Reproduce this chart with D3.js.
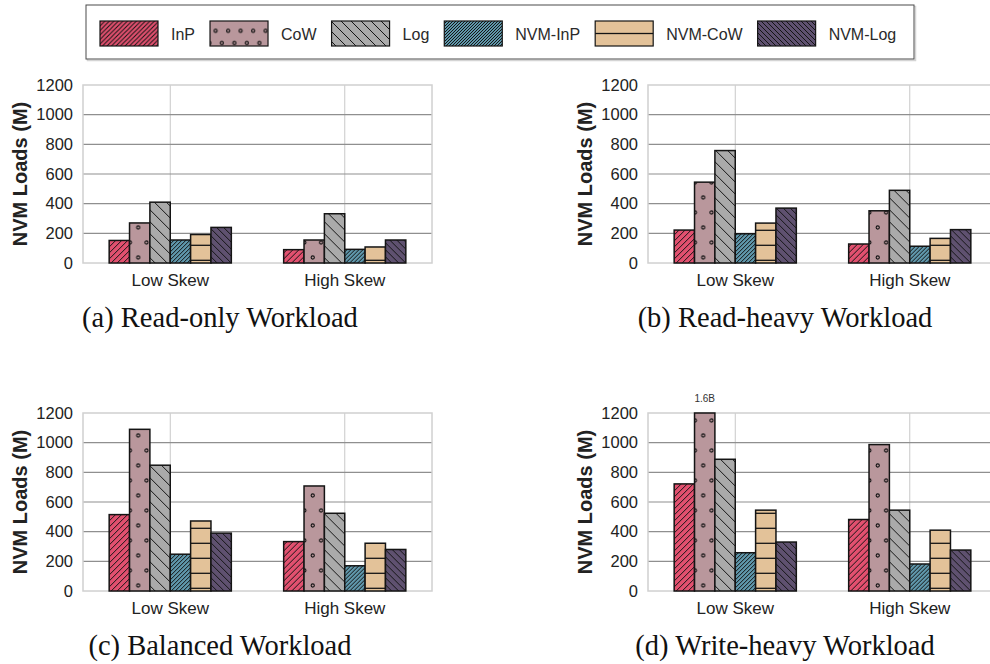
<!DOCTYPE html>
<html>
<head>
<meta charset="utf-8">
<script src="https://cdn.jsdelivr.net/npm/d3@7"></script>
<style>
  body { margin: 0; background: #fff; }
  text { font-family: "Liberation Sans", Arial, Helvetica, sans-serif; }
  text.caption { font-family: "Liberation Serif", "Times New Roman", serif; }
</style>
</head>
<body>
<svg class="chart"></svg>
<script>
const categories = ['Low Skew', 'High Skew'];
const series = ['InP', 'CoW', 'Log', 'NVM-InP', 'NVM-CoW', 'NVM-Log'];
const yTicks = [0, 200, 400, 600, 800, 1000, 1200];

// NVM loads (millions): one row per category, one value per series
const readOnly = [[152, 270, 410, 155, 192, 240], [90, 155, 332, 92, 108, 155]];
const readHeavy = [[222, 545, 758, 197, 269, 370], [128, 352, 490, 113, 166, 225]];
const balanced = [[515, 1090, 848, 248, 472, 390], [333, 708, 524, 170, 322, 280]];
const writeHeavy = [[722, 1600, 888, 258, 545, 330], [482, 987, 545, 182, 410, 276]];

const colors = ['#e2506f', '#b9979c', '#aaaaaa', '#5f97ab', '#e3c299', '#5f5170'];
// hatch kind and spacing for bars / legend swatches
const hatches = [
  { kind: 'fwd', bar: 6, legend: 4.5 },
  { kind: 'dots', bar: [16.6, 30], legend: [12.5, 24.6] },
  { kind: 'back', bar: 12, legend: 10 },
  { kind: 'fwd', bar: 4, legend: 3 },
  { kind: 'hlines', bar: [15, 10.3], legend: [25, 8.5] },
  { kind: 'back', bar: 7, legend: 5 },
];

const width = 990;
const height = 664;
const pw = 349;
const ph = 178;
const yMax = 1200;

// small helper so the pattern code reads like d3-selection-multi
d3.selection.prototype.attrs = function (obj) {
  Object.keys(obj).forEach(k => this.attr(k, obj[k]));
  return this;
};

const svg = d3.select('.chart').attr('width', width).attr('height', height);
const defs = svg.append('defs');

function makePattern(id, color, kind, step) {
  const isGrid = Array.isArray(step);
  let w = step;
  let h = step;
  if (kind === 'dots') { w = step[0]; h = step[1]; }
  if (kind === 'hlines') { w = 10; h = step[0]; }
  const p = defs.append('pattern')
    .attr('id', id)
    .attr('patternUnits', 'userSpaceOnUse')
    .attr('width', w)
    .attr('height', h);
  p.append('rect').attr('width', w).attr('height', h).attr('fill', color);
  const ink = { stroke: '#141414', 'stroke-width': 1, fill: 'none' };
  if (kind === 'fwd') {
    p.append('path').attr('d', `M-1,1 l2,-2 M0,${h} l${w},${-h} M${w - 1},${h + 1} l2,-2`).attrs(ink);
  } else if (kind === 'back') {
    p.append('path').attr('d', `M-1,${h - 1} l2,2 M0,0 l${w},${h} M${w - 1},-1 l2,2`).attrs(ink);
  } else if (kind === 'hlines') {
    p.append('line').attr('x1', 0).attr('x2', w).attr('y1', step[1]).attr('y2', step[1])
      .attrs(Object.assign({}, ink, { 'stroke-width': 1.3 }));
  } else if (kind === 'dots' && isGrid) {
    [[w / 4, h / 4], [3 * w / 4, 3 * h / 4]].forEach(([cx, cy]) => {
      p.append('circle').attr('cx', cx).attr('cy', cy).attr('r', 1.6)
        .attrs(Object.assign({}, ink, { 'stroke-width': 1.1, stroke: '#111' }));
    });
  }
}

series.forEach((s, i) => {
  makePattern(`bar-${i}`, colors[i], hatches[i].kind, hatches[i].bar);
  makePattern(`leg-${i}`, colors[i], hatches[i].kind, hatches[i].legend);
});

// legend
const legend = svg.append('g').attr('class', 'legend');
legend.append('rect')
  .attr('x', 87.5).attr('y', 6.5).attr('width', 828).attr('height', 54)
  .attr('fill', 'none').attr('stroke', '#d4d4d4').attr('stroke-width', 1.5);
legend.append('rect')
  .attr('x', 86).attr('y', 5).attr('width', 828).attr('height', 54)
  .attr('fill', '#fff').attr('stroke', '#4a4a4a').attr('stroke-width', 1);

let lx = 100;
series.forEach((s, i) => {
  legend.append('rect')
    .attr('x', lx).attr('y', 21).attr('width', 58).attr('height', 25)
    .attr('fill', `url(#leg-${i})`)
    .attr('stroke', '#141414').attr('stroke-width', 1.2);
  const t = legend.append('text')
    .attr('x', lx + 71).attr('y', 39.5)
    .attr('font-size', 16).attr('fill', '#2a2a2a')
    .text(s);
  lx += 71 + t.node().getComputedTextLength() + 15;
});

const panels = [
  { caption: '(a) Read-only Workload', data: readOnly, left: 83, top: 85 },
  { caption: '(b) Read-heavy Workload', data: readHeavy, left: 648, top: 85 },
  { caption: '(c) Balanced Workload', data: balanced, left: 83, top: 413 },
  { caption: '(d) Write-heavy Workload', data: writeHeavy, left: 648, top: 413 },
];

const drawPanel = (p) => {
  const g = svg.append('g').attr('transform', `translate(${p.left},${p.top})`);

  const x0 = d3.scaleBand().domain(categories).range([0, pw])
    .paddingInner(0.3).paddingOuter(0.15);
  const x1 = d3.scaleBand().domain(series).range([0, x0.bandwidth()]);
  const y = d3.scaleLinear().domain([0, yMax]).range([ph, 0]).clamp(true);

  g.append('g')
    .selectAll('line')
    .data(categories)
    .enter()
    .append('line')
    .attr('x1', d => x0(d) + x0.bandwidth() / 2)
    .attr('x2', d => x0(d) + x0.bandwidth() / 2)
    .attr('y1', 0)
    .attr('y2', ph)
    .attr('stroke', '#c8c8c8')
    .attr('stroke-width', 1);

  g.append('g')
    .selectAll('line')
    .data(yTicks.slice(1, -1))
    .enter()
    .append('line')
    .attr('x1', 0)
    .attr('x2', pw)
    .attr('y1', d => y(d))
    .attr('y2', d => y(d))
    .attr('stroke', '#8f8f8f')
    .attr('stroke-width', 1.2);

  g.append('rect')
    .attr('width', pw)
    .attr('height', ph)
    .attr('fill', 'none')
    .attr('stroke', '#d0d0d0')
    .attr('stroke-width', 1.5);

  const groups = g.append('g')
    .selectAll('g')
    .data(p.data)
    .enter()
    .append('g')
    .attr('transform', (d, i) => `translate(${x0(categories[i])},0)`);

  groups.selectAll('rect')
    .data(d => d.map((v, j) => ({ v, j })))
    .enter()
    .append('rect')
    .attr('x', d => x1(series[d.j]))
    .attr('y', d => y(d.v))
    .attr('width', x1.bandwidth())
    .attr('height', d => ph - y(d.v))
    .attr('fill', d => `url(#bar-${d.j})`)
    .attr('stroke', '#141414')
    .attr('stroke-width', 1.5);

  // values beyond the axis are cut and labelled
  groups.selectAll('text.over')
    .data(d => d.map((v, j) => ({ v, j })).filter(e => e.v > yMax))
    .enter()
    .append('text')
    .attr('class', 'over')
    .attr('x', d => x1(series[d.j]) + x1.bandwidth() / 2)
    .attr('y', -11.5)
    .attr('text-anchor', 'middle')
    .attr('font-size', 10)
    .attr('fill', '#333')
    .text(d => `${d3.format('.1f')(d.v / 1000)}B`);

  const yAxis = g.append('g')
    .call(d3.axisLeft(y).tickValues(yTicks).tickFormat(d3.format('d')).tickSize(0).tickPadding(10));
  yAxis.select('.domain').remove();
  yAxis.selectAll('text')
    .attr('font-size', 16.5)
    .attr('font-family', null)
    .attr('fill', '#222');

  const xAxis = g.append('g')
    .attr('transform', `translate(0,${ph})`)
    .call(d3.axisBottom(x0).tickSize(0).tickPadding(11));
  xAxis.select('.domain').remove();
  xAxis.selectAll('text')
    .attr('font-size', 17)
    .attr('font-family', null)
    .attr('fill', '#222');

  svg.append('text')
    .attr('transform', `translate(${p.left - 63},${p.top + ph / 2}) rotate(-90)`)
    .attr('dy', '0.36em')
    .attr('text-anchor', 'middle')
    .attr('font-size', 20)
    .attr('font-weight', 'bold')
    .attr('fill', '#222')
    .text('NVM Loads (M)');

  svg.append('text')
    .attr('class', 'caption')
    .attr('x', p.left + 137)
    .attr('y', p.top + ph + 64)
    .attr('text-anchor', 'middle')
    .attr('font-size', 28.5)
    .attr('fill', '#111')
    .text(p.caption);
};

panels.forEach(drawPanel);
</script>
</body>
</html>
